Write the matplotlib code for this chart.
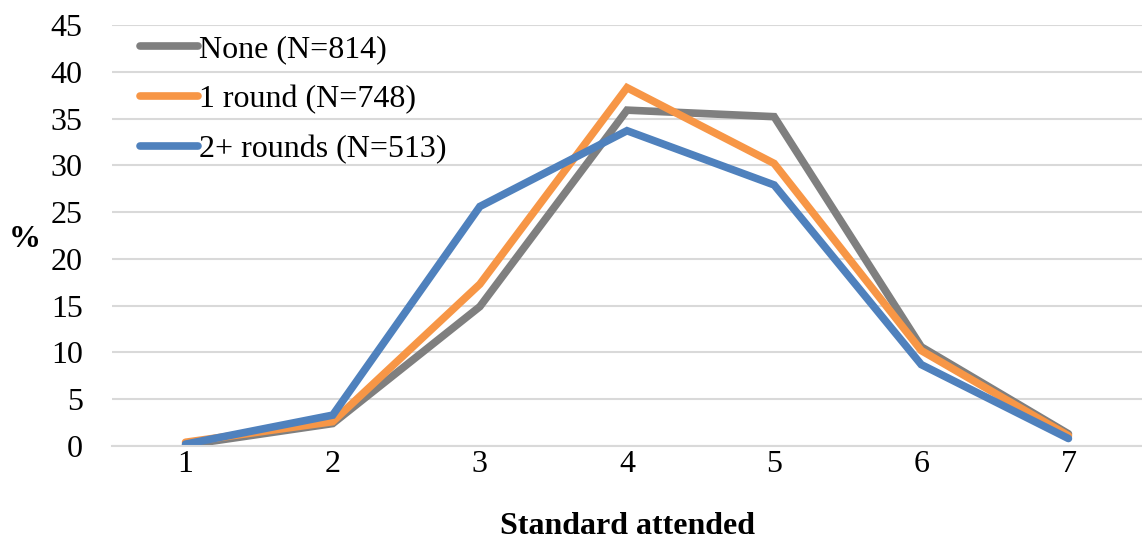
import matplotlib.pyplot as plt

plt.rcParams['font.family'] = ['Liberation Serif', 'DejaVu Serif']

standards = [1, 2, 3, 4, 5, 6, 7]
none_pct = [0.1, 2.4, 14.9, 35.9, 35.2, 10.6, 1.3]
one_round_pct = [0.4, 2.6, 17.3, 38.3, 30.2, 10.2, 1.1]
two_plus_pct = [0.2, 3.3, 25.6, 33.7, 27.9, 8.7, 0.8]

labels = ["None (N=814)", "1 round (N=748)", "2+ rounds (N=513)"]
colors = ["#7F7F7F", "#F79646", "#4F81BD"]

fig = plt.figure(figsize=(11.42, 5.43), dpi=100)
ax = fig.add_axes([112 / 1142, 97 / 543, 1030 / 1142, 421 / 543])

for vals, lab, col in zip([none_pct, one_round_pct, two_plus_pct], labels, colors):
    ax.plot(standards, vals, color=col, lw=5.5, label=lab, solid_capstyle='round', solid_joinstyle='miter')

ax.set_xlim(0.5, 7.5)
ax.set_ylim(0, 45)
ax.set_yticks(range(0, 46, 5))
ax.set_xticks(standards)
ax.grid(axis='y', color='#D9D9D9', lw=1.5)
ax.set_axisbelow(True)
for s in ['top', 'right', 'left']:
    ax.spines[s].set_visible(False)
ax.spines['bottom'].set_color('#D9D9D9')
ax.spines['bottom'].set_linewidth(1.5)
ax.tick_params(length=0, labelsize=23, pad=3)
ax.tick_params(axis='y', pad=21)

ax.set_xlabel("Standard attended", fontsize=23, fontweight='bold', labelpad=24)
ax.set_ylabel("%", fontsize=23, fontweight='bold', rotation=0)
ax.yaxis.set_label_coords(-0.085, 0.455)

leg = ax.legend(loc='upper left', bbox_to_anchor=(0.015, 1.008), frameon=False, fontsize=23,
                handlelength=1.8, handletextpad=0.05, labelspacing=0.65, borderaxespad=0.0)

fig.savefig("out.png", dpi=100)
